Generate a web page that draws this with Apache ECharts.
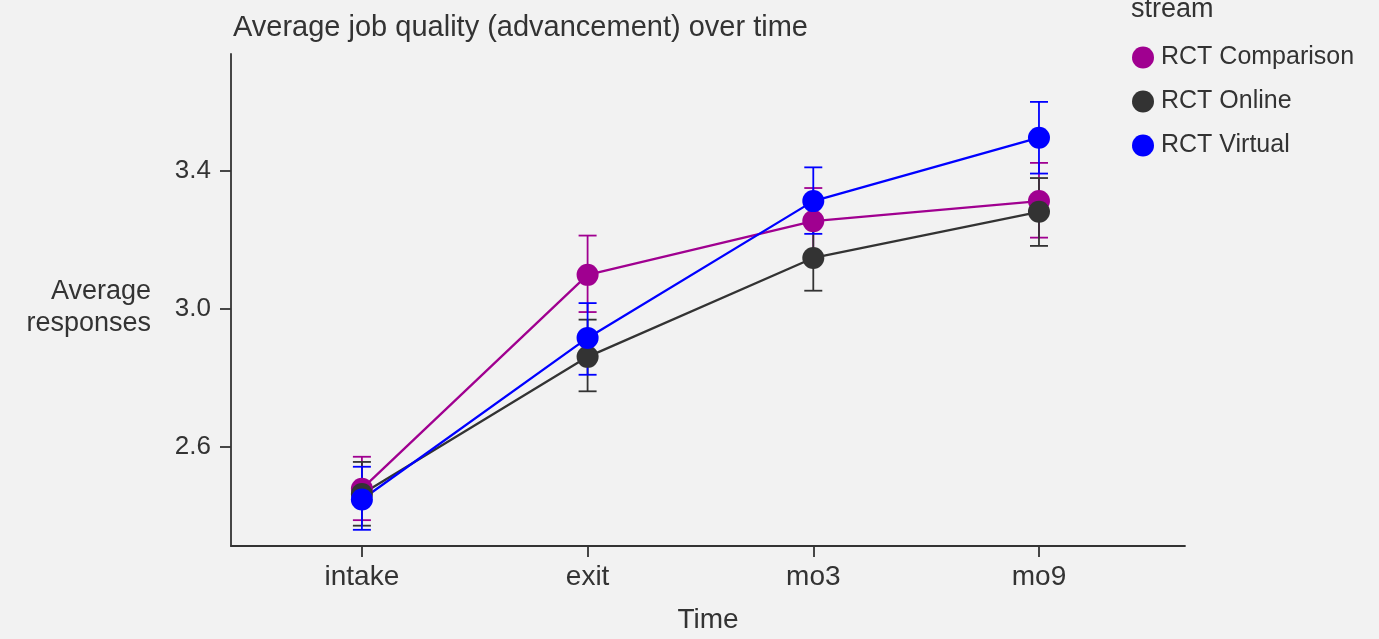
<!DOCTYPE html>
<html>
<head>
<meta charset="utf-8">
<script src="https://cdn.jsdelivr.net/npm/echarts@6/dist/echarts.min.js"></script>
<style>
html,body{margin:0;padding:0;background:#f2f2f2;}
#chart{width:1379px;height:639px;}
</style>
</head>
<body>
<div id="chart"></div>
<script>
const categories = ['intake', 'exit', 'mo3', 'mo9'];
const seriesNames = ['RCT Comparison', 'RCT Online', 'RCT Virtual'];
const seriesColors = ['#A00090', '#333333', '#0000FF'];

const comparisonMean = [2.478, 3.099, 3.255, 3.313];
const comparisonLow  = [2.387, 2.991, 3.159, 3.207];
const comparisonHigh = [2.571, 3.213, 3.351, 3.424];

const onlineMean = [2.463, 2.861, 3.148, 3.282];
const onlineLow  = [2.371, 2.761, 3.053, 3.183];
const onlineHigh = [2.556, 2.969, 3.243, 3.380];

const virtualMean = [2.447, 2.916, 3.313, 3.497];
const virtualLow  = [2.359, 2.809, 3.218, 3.393];
const virtualHigh = [2.542, 3.017, 3.411, 3.601];

const yTicks = [2.6, 3.0, 3.4];

const means = [comparisonMean, onlineMean, virtualMean];
const lows = [comparisonLow, onlineLow, virtualLow];
const highs = [comparisonHigh, onlineHigh, virtualHigh];

const FONT = '"Liberation Sans", Arial, sans-serif';
const TXT = '#333333';

const chart = echarts.init(document.getElementById('chart'), null, {renderer: 'canvas'});

const series = [];
// error bars
seriesNames.forEach((name, s) => {
  series.push({
    name: name,
    type: 'custom',
    z: 1,
    silent: true,
    data: categories.map((c, i) => [i, lows[s][i], highs[s][i]]),
    encode: {x: 0, y: [1, 2]},
    renderItem: function (params, api) {
      const x = api.value(0);
      const lo = api.coord([x, api.value(1)]);
      const hi = api.coord([x, api.value(2)]);
      const hw = 9;
      const st = {stroke: seriesColors[s], lineWidth: 1.8};
      return {
        type: 'group',
        children: [
          {type: 'line', shape: {x1: lo[0], y1: lo[1], x2: hi[0], y2: hi[1]}, style: st},
          {type: 'line', shape: {x1: hi[0] - hw, y1: hi[1], x2: hi[0] + hw, y2: hi[1]}, style: st},
          {type: 'line', shape: {x1: lo[0] - hw, y1: lo[1], x2: lo[0] + hw, y2: lo[1]}, style: st}
        ]
      };
    }
  });
});
// lines
seriesNames.forEach((name, s) => {
  series.push({
    name: name,
    type: 'line',
    z: 2,
    silent: true,
    showSymbol: false,
    symbol: 'none',
    data: categories.map((c, i) => [i, means[s][i]]),
    lineStyle: {color: seriesColors[s], width: 2.3},
    itemStyle: {color: seriesColors[s]}
  });
});
// points
seriesNames.forEach((name, s) => {
  series.push({
    name: name,
    type: 'scatter',
    z: 3,
    silent: true,
    symbol: 'circle',
    symbolSize: 22,
    data: categories.map((c, i) => [i, means[s][i]]),
    itemStyle: {color: seriesColors[s], opacity: 1}
  });
});

const option = {
  backgroundColor: '#f2f2f2',
  animation: false,
  title: {
    text: 'Average job quality (advancement) over time',
    left: 228,
    top: 8,
    textStyle: {fontFamily: FONT, fontSize: 29, fontWeight: 'normal', color: TXT}
  },
  legend: {
    orient: 'vertical',
    left: 1127,
    top: 40,
    itemWidth: 22,
    itemHeight: 22,
    itemGap: 19,
    icon: 'circle',
    textStyle: {fontFamily: FONT, fontSize: 25, color: TXT, padding: [0, 0, 0, 2]},
    data: seriesNames.map((n, s) => ({name: n, icon: 'circle', itemStyle: {color: seriesColors[s]}}))
  },
  graphic: [{
    type: 'text',
    left: 1131,
    top: -4,
    style: {text: 'stream', fontFamily: FONT, fontSize: 27, fill: TXT}
  }, {
    type: 'text',
    x: 151,
    y: 308,
    style: {
      text: 'Average\nresponses', fontFamily: FONT, fontSize: 27, fill: TXT,
      align: 'right', verticalAlign: 'middle', lineHeight: 32
    }
  }],
  grid: {left: 231, right: 194, top: 54, bottom: 89, containLabel: false},
  xAxis: {
    type: 'value',
    min: -0.58,
    max: 3.647,
    name: 'Time',
    nameLocation: 'middle',
    nameGap: 60,
    nameTextStyle: {fontFamily: FONT, fontSize: 28, color: TXT},
    axisLine: {show: true, onZero: false, lineStyle: {color: TXT, width: 1.8}},
    axisTick: {show: true, length: 11, customValues: categories.map((c, i) => i), lineStyle: {color: TXT, width: 1.8}},
    axisLabel: {
      fontFamily: FONT, fontSize: 28, color: TXT, margin: 17,
      customValues: categories.map((c, i) => i),
      formatter: v => categories[Math.round(v)]
    },
    splitLine: {show: false}
  },
  yAxis: {
    type: 'value',
    min: 2.312,
    max: 3.74,
    axisLine: {show: true, onZero: false, lineStyle: {color: TXT, width: 1.8}},
    axisTick: {show: true, length: 11, customValues: yTicks, lineStyle: {color: TXT, width: 1.8}},
    axisLabel: {
      fontFamily: FONT, fontSize: 26, color: TXT, margin: 20,
      customValues: yTicks,
      formatter: v => v.toFixed(1)
    },
    splitLine: {show: false}
  },
  series: series
};
chart.setOption(option);
</script>
</body>
</html>
